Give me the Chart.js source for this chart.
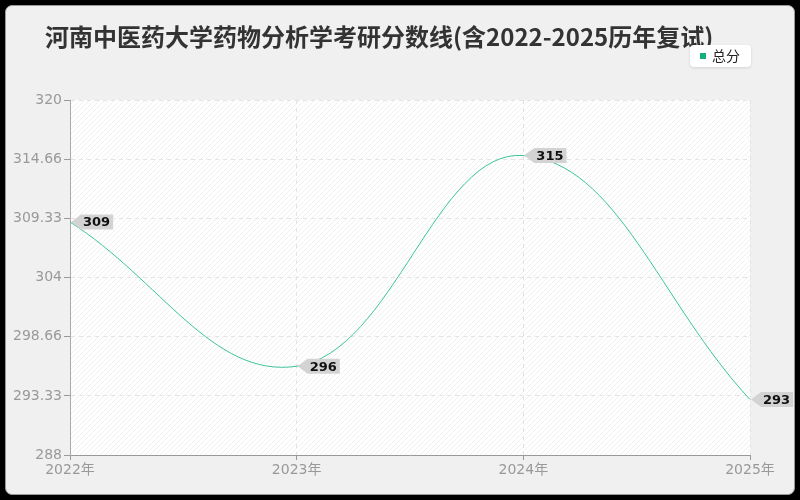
<!DOCTYPE html>
<html lang="zh">
<head>
    <meta charset="utf-8">
    <title>河南中医药大学药物分析学考研分数线</title>
    <script src="https://cdn.jsdelivr.net/npm/chart.js"></script>
    <style>
        html, body {
            margin: 0;
            padding: 0;
            background: #000;
        }
        .card {
            position: absolute;
            left: 5px;
            top: 5px;
            width: 788px;
            height: 488px;
            background: #f0f0f0;
            border: 1px solid #9a9a9a;
            border-radius: 7px;
        }
        .chart-box {
            position: absolute;
            left: 0;
            top: 0;
            width: 800px;
            height: 500px;
        }
    </style>
</head>
<body>
    <div class="card"></div>
    <div class="chart-box">
        <canvas id="scoreChart" width="800" height="500"></canvas>
    </div>

    <script>
        const years = ['2022年', '2023年', '2024年', '2025年'];
        const totalScores = [309, 296, 315, 293];
        const yTickValues = [288, 293.33, 298.66, 304, 309.33, 314.66, 320];
        const yTickLabels = ['288', '293.33', '298.66', '304', '309.33', '314.66', '320'];
        const seriesName = '总分';
        const chartTitle = '河南中医药大学药物分析学考研分数线(含2022-2025历年复试)';

        const lineColor = '#3cc49c';
        const tickFont = { family: "'DejaVu Sans', 'Noto Sans CJK SC'", size: 14 };

        // light diagonal hatch for the plot area
        function makeHatch(ctx) {
            const c = document.createElement('canvas');
            c.width = 5;
            c.height = 5;
            const p = c.getContext('2d');
            p.fillStyle = '#ffffff';
            p.fillRect(0, 0, 5, 5);
            p.strokeStyle = '#f0f0f0';
            p.lineWidth = 1;
            p.beginPath();
            p.moveTo(0, 5);
            p.lineTo(5, 0);
            p.moveTo(-1, 1);
            p.lineTo(1, -1);
            p.moveTo(4, 6);
            p.lineTo(6, 4);
            p.stroke();
            return ctx.createPattern(c, 'repeat');
        }

        const plotBackground = {
            id: 'plotBackground',
            beforeDraw(chart) {
                const { ctx, chartArea: a } = chart;
                ctx.save();
                ctx.fillStyle = makeHatch(ctx);
                ctx.fillRect(a.left, a.top, a.right - a.left, a.bottom - a.top);
                ctx.restore();
            }
        };

        // value tags with a left-pointing arrow
        const valueTags = {
            id: 'valueTags',
            afterDatasetsDraw(chart) {
                const { ctx } = chart;
                const meta = chart.getDatasetMeta(0);
                ctx.save();
                ctx.font = "bold 13px 'DejaVu Sans'";
                ctx.textBaseline = 'middle';
                meta.data.forEach((pt, i) => {
                    const text = String(totalScores[i]);
                    const w = ctx.measureText(text).width + 5;
                    const h = 15;
                    const x = pt.x + 1;
                    const y = pt.y;
                    ctx.beginPath();
                    ctx.moveTo(x, y);
                    ctx.lineTo(x + 10, y - h / 2);
                    ctx.lineTo(x + 10 + w, y - h / 2);
                    ctx.lineTo(x + 10 + w, y + h / 2);
                    ctx.lineTo(x + 10, y + h / 2);
                    ctx.closePath();
                    ctx.fillStyle = '#d3d3d3';
                    ctx.fill();
                    ctx.fillStyle = '#111';
                    ctx.fillText(text, x + 12, y + 1);
                });
                ctx.restore();
            }
        };

        // title at the top left and the small legend box in the corner
        const header = {
            id: 'header',
            afterDraw(chart) {
                const { ctx } = chart;
                ctx.save();
                ctx.fillStyle = '#333';
                ctx.font = "bold 24px 'Noto Sans CJK SC'";
                ctx.textBaseline = 'middle';
                ctx.fillText(chartTitle, 45, 37);

                ctx.shadowColor = 'rgba(0,0,0,0.12)';
                ctx.shadowBlur = 3;
                ctx.shadowOffsetY = 1;
                ctx.fillStyle = '#ffffff';
                ctx.beginPath();
                ctx.roundRect(690, 45, 61, 22, 4);
                ctx.fill();
                ctx.shadowColor = 'transparent';
                ctx.fillStyle = '#12b07e';
                ctx.fillRect(700, 53, 6, 6);
                ctx.fillStyle = '#222';
                ctx.font = "14px 'Noto Sans CJK SC'";
                ctx.fillText(seriesName, 712, 56);
                ctx.restore();
            }
        };

        new Chart(document.getElementById('scoreChart'), {
            type: 'line',
            data: {
                labels: years,
                datasets: [{
                    label: seriesName,
                    data: totalScores,
                    borderColor: lineColor,
                    backgroundColor: lineColor,
                    borderWidth: 1,
                    pointRadius: 0,
                    tension: 0.4,
                    fill: false
                }]
            },
            options: {
                responsive: false,
                animation: false,
                layout: {
                    padding: { left: 0, right: 50, top: 100, bottom: 0 }
                },
                plugins: {
                    legend: { display: false },
                    tooltip: { enabled: false },
                    title: { display: false }
                },
                scales: {
                    x: {
                        grid: {
                            color: '#e3e3e3',
                            tickColor: '#999',
                            tickBorderDash: [],
                            tickLength: 5
                        },
                        border: { color: '#999', dash: [4, 4] },
                        ticks: { color: '#999', font: tickFont, padding: 2, maxRotation: 0 },
                        afterFit(scale) { scale.height = 45; }
                    },
                    y: {
                        min: 288,
                        max: 320,
                        afterBuildTicks(scale) {
                            scale.ticks = yTickValues.map(v => ({ value: v }));
                        },
                        grid: {
                            color: '#e3e3e3',
                            tickColor: '#999',
                            tickBorderDash: [],
                            tickLength: 6
                        },
                        border: { color: '#aaa', dash: [4, 4] },
                        ticks: {
                            color: '#999',
                            font: tickFont,
                            padding: 2,
                            callback: (value, index) => yTickLabels[index]
                        },
                        afterFit(scale) { scale.width = 70; }
                    }
                }
            },
            plugins: [plotBackground, valueTags, header]
        });
    </script>
</body>
</html>
